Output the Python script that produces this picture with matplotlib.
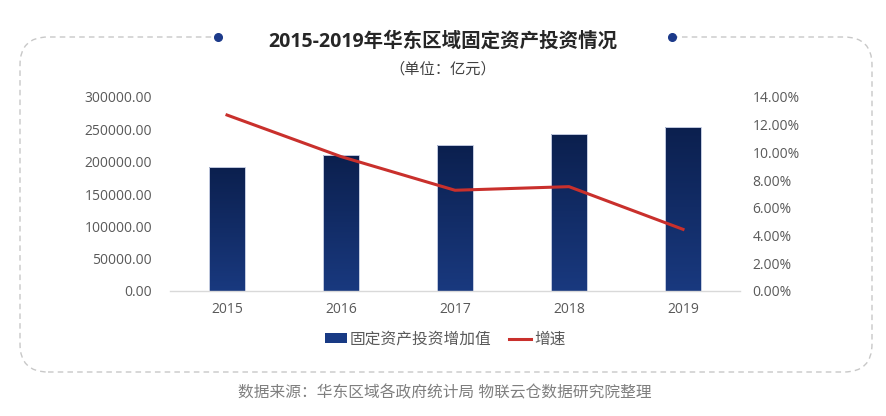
import numpy as np
import matplotlib
matplotlib.use("Agg")
import matplotlib.pyplot as plt
from matplotlib.patches import FancyBboxPatch, Rectangle, Patch
from matplotlib.lines import Line2D
from matplotlib.colors import LinearSegmentedColormap
from matplotlib.transforms import IdentityTransform

# data
years = ["2015", "2016", "2017", "2018", "2019"]
invest = [191300, 210300, 225800, 242300, 254100]   # 固定资产投资增加值 (亿元)
growth = [12.70, 9.70, 7.27, 7.53, 4.45]            # 增速 (%)
left_ticks = [0, 50000, 100000, 150000, 200000, 250000, 300000]
right_ticks = [0, 2, 4, 6, 8, 10, 12, 14]

plt.rcParams['font.family'] = ['Open Sans', 'Noto Sans CJK SC', 'DejaVu Sans']

W, H = 887, 416
fig = plt.figure(figsize=(W / 100, H / 100), dpi=100)
fig.patch.set_facecolor('white')

ax = fig.add_axes([170 / W, 1 - 291 / H, 570 / W, 194 / H])
ax2 = ax.twinx()

x = np.arange(len(years))
bars = ax.bar(x, invest, width=0.31, color='none', edgecolor='#c3cbe0',
              linewidth=0.7, zorder=2)

# vertical gradient inside each bar, clipped to the bar shape
cmap = LinearSegmentedColormap.from_list('navy', ['#19397f', '#0b1f4d'])
grad = np.linspace(0, 1, 256).reshape(-1, 1)
for b in bars:
    x0, w, h = b.get_x(), b.get_width(), b.get_height()
    im = ax.imshow(grad, extent=[x0 - 0.02, x0 + w + 0.02, 0, h * 1.02],
                   origin='lower', aspect='auto', cmap=cmap, zorder=1)
    im.set_clip_path(b)

ax.set_xlim(-0.5, len(years) - 0.5)
ax.set_ylim(0, 300000)
ax.set_xticks(x, years)
ax.set_yticks(left_ticks, [f"{v:.2f}" for v in left_ticks])
ax.tick_params(axis='y', length=0, labelsize=10, labelcolor='#595959', pad=13)
ax.tick_params(axis='x', length=0, labelsize=10, labelcolor='#595959', pad=8)
for s in ['top', 'left', 'right']:
    ax.spines[s].set_visible(False)
ax.spines['bottom'].set_color('#d9d9d9')
ax.spines['bottom'].set_linewidth(1)

ax2.plot(x, growth, color='#c9302c', linewidth=2.2, zorder=3)
ax2.set_ylim(0, 14)
ax2.set_yticks(right_ticks, [f"{v:.2f}%" for v in right_ticks])
ax2.tick_params(axis='y', length=0, labelsize=10, labelcolor='#595959', pad=9)
for s in ax2.spines.values():
    s.set_visible(False)

# legend
handles = [Patch(facecolor='#183a84', edgecolor='none'),
           Line2D([0], [0], color='#c9302c', linewidth=2.2)]
fig.legend(handles, ['固定资产投资增加值', '增速'], loc='center',
           bbox_to_anchor=(445 / W, 1 - 340 / H), ncol=2, frameon=False,
           fontsize=11.3, labelcolor='#595959', handlelength=1.4,
           handleheight=0.6, handletextpad=0.2, columnspacing=1.1)

# titles and source
fig.text(443 / W, 1 - 42 / H, '2015-2019年华东区域固定资产投资情况',
         ha='center', va='center', fontsize=14, fontweight='bold', color='#262626')
fig.text(443 / W, 1 - 70 / H, '（单位：亿元）', ha='center', va='center',
         fontsize=11, color='#404040')
fig.text(445 / W, 1 - 393 / H, '数据来源：华东区域各政府统计局 物联云仓数据研究院整理',
         ha='center', va='center', fontsize=11.3, color='#7f7f7f')

# dashed rounded frame with a gap for the title
frame = FancyBboxPatch((20, H - 372), 852, 335,
                       boxstyle='round,pad=0,rounding_size=28',
                       transform=IdentityTransform(), fill=False,
                       edgecolor='#c8c8c8', linestyle=(0, (4, 3)), linewidth=1)
fig.add_artist(frame)
fig.add_artist(Rectangle((219, H - 37 - 4), 452, 8, transform=IdentityTransform(),
                         facecolor='white', edgecolor='none', zorder=1.5))
for px in (218, 672):
    fig.add_artist(Line2D([px], [H - 37], marker='o', markersize=5.5,
                          color='#1c3a8a', transform=IdentityTransform(), zorder=2))

fig.savefig('out.png', dpi=100)
